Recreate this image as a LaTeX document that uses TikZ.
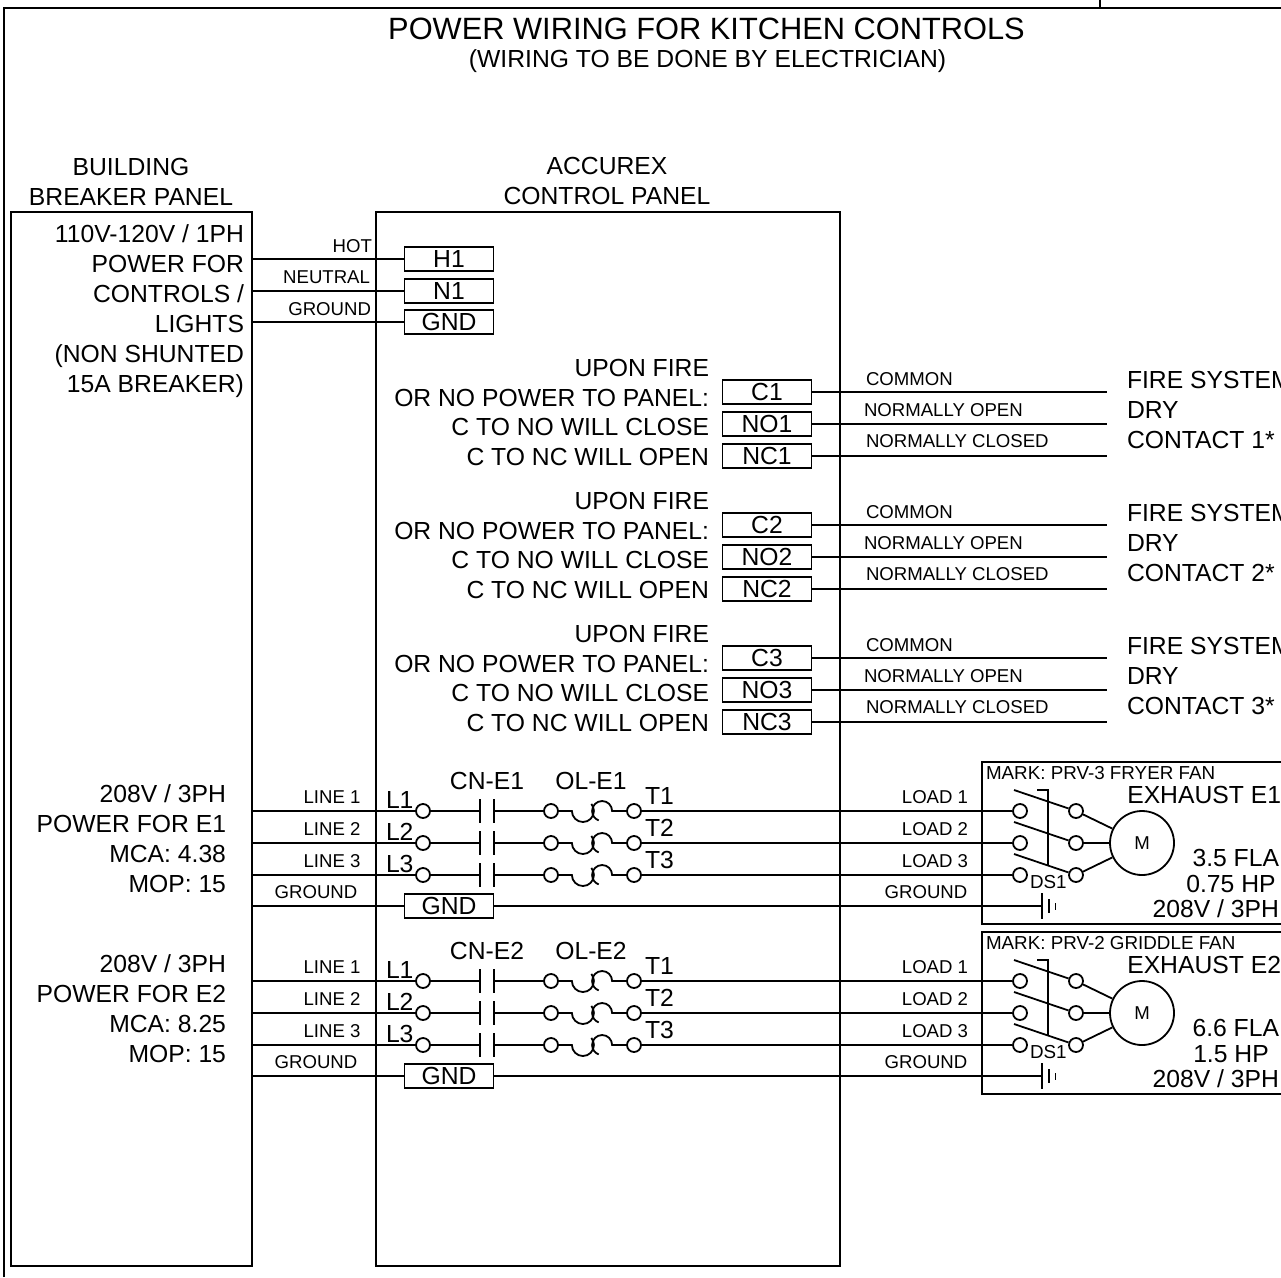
\documentclass[tikz,border=0pt]{standalone}
\usepackage{fontspec}
\setmainfont{Liberation Sans}
\usetikzlibrary{positioning}
\tikzset{
    txt/.style={inner sep=0pt, outer sep=0pt, font=\fontsize{24.7}{30}\selectfont, align=right},
    smalltxt/.style={inner sep=0pt, outer sep=0pt, font=\fontsize{18.6}{22}\selectfont},
    marktxt/.style={inner sep=0pt, outer sep=0pt, font=\fontsize{18.8}{22}\selectfont, anchor=west},
    panel/.style={draw, inner sep=0pt, minimum width=#1, minimum height=1054pt, anchor=north west},
    termbox/.style={draw, fill=white, inner sep=0pt, minimum width=89pt, minimum height=24pt, font=\fontsize{24.7}{30}\selectfont},
    contact/.style={draw, fill=white, circle, inner sep=0pt, minimum size=14pt}
}

\begin{document}
\begin{tikzpicture}[x=1pt, y=-1pt, line width=1.8pt]
    \useasboundingbox (0,0) rectangle (1281,1277);

    % sheet frame
    \draw (4,1277) -- (4,8) -- (1281,8);
    \draw (1100,0) -- (1100,8);

    % headings
    \node[txt, font=\fontsize{30.8}{34}\selectfont] (title) at (706.5,29) {POWER WIRING FOR KITCHEN CONTROLS};
    \node[txt] (subtitle) at (707.5,61) {(WIRING TO BE DONE BY ELECTRICIAN)};
    \node[txt, align=center] (brkhead) at (131,182) {BUILDING\\BREAKER PANEL};
    \node[txt, align=center] (ctlhead) at (607,181) {ACCUREX\\CONTROL PANEL};

    % panels
    \node[panel=241pt] (brk) at (10.1,210.9) {};
    \node[panel=464pt] (ctl) at (375.1,210.9) {};

    % control power
    \node[txt, anchor=north east] (ctltxt) at (244,224.5) {110V-120V / 1PH\\POWER FOR\\CONTROLS /\\LIGHTS\\(NON SHUNTED\\15A BREAKER)};
    \node[termbox] (h1) at (449,259) {H1};
    \node[termbox] (n1) at (449,291) {N1};
    \node[termbox] (gnd0) at (449,322) {GND};
    \draw (brk.east |- h1) -- (h1);
    \draw (brk.east |- n1) -- (n1);
    \draw (brk.east |- gnd0) -- (gnd0);
    \node[smalltxt, anchor=east] (hot) at (372,246) {HOT};
    \node[smalltxt, anchor=east] (neutral) at (370,277) {NEUTRAL};
    \node[smalltxt, anchor=east] (ground0) at (371,309) {GROUND};

    % fire system contacts
    \foreach \n/\dy in {1/0, 2/133, 3/266} {
        \begin{scope}[yshift=-\dy pt]
            \node[txt, anchor=east] (upon\n) at (709,368) {UPON FIRE};
            \node[txt, anchor=east] (nopower\n) at (709,398) {OR NO POWER TO PANEL:};
            \node[txt, anchor=east] (close\n) at (709,427) {C TO NO WILL CLOSE};
            \node[txt, anchor=east] (open\n) at (709,457) {C TO NC WILL OPEN};
            \node[termbox] (c\n) at (767,392) {C\n};
            \node[termbox] (no\n) at (767,424) {NO\n};
            \node[termbox] (nc\n) at (767,456) {NC\n};
            \coordinate (cend\n) at (1107,392);
            \coordinate (noend\n) at (1107,424);
            \coordinate (ncend\n) at (1107,456);
            \draw (c\n) -- (cend\n);
            \draw (no\n) -- (noend\n);
            \draw (nc\n) -- (ncend\n);
            \node[smalltxt, anchor=west] (common\n) at (866,379) {COMMON};
            \node[smalltxt, anchor=west] (normopen\n) at (864,410) {NORMALLY OPEN};
            \node[smalltxt, anchor=west] (normclosed\n) at (866,441) {NORMALLY CLOSED};
            \node[txt, anchor=west] (firesys\n) at (1127,379.5) {FIRE SYSTEM};
            \node[txt, anchor=west] (dry\n) at (1127,410) {DRY};
            \node[txt, anchor=west] (dryc\n) at (1127,440) {CONTACT \n*};
        \end{scope}
    }

    % fan starters
    \foreach \e/\dy/\mca/\marktext/\fla/\hp in {1/0/4.38/PRV-3 FRYER FAN/3.5/0.75, 2/170/8.25/PRV-2 GRIDDLE FAN/6.6/1.5} {
        \begin{scope}[yshift=-\dy pt]
            \node[txt, anchor=north east] (feed\e) at (226,784.5) {208V / 3PH\\POWER FOR E\e\\MCA: \mca\\MOP: 15};
            \node[txt] (cnlbl\e) at (487,781) {CN-E\e};
            \node[txt] (ollbl\e) at (591,781) {OL-E\e};
            \draw (1281,762) -- (982,762) -- (982,924) -- (1281,924);
            \node[marktxt] (mark\e) at (986,773) {MARK: \marktext};
            \node[txt, anchor=east] (exh\e) at (1281,795) {EXHAUST E\e};
            \node[txt, anchor=east] (fla\e) at (1279,858) {\fla{} FLA};
            \node[txt] (hp\e) at (1231,884) {\hp{} HP};
            \node[txt, anchor=east] (volt\e) at (1279,909) {208V / 3PH};

            \node[draw, circle, inner sep=0pt, minimum size=64pt, font=\fontsize{18.6}{22}\selectfont] (motor\e) at (1142,843) {M};
            \foreach \i/\y in {1/811, 2/843, 3/875} {
                \node[contact] (la\e\i) at (423,\y) {};
                \node[contact] (oa\e\i) at (551,\y) {};
                \node[contact] (ob\e\i) at (634,\y) {};
                \node[contact] (da\e\i) at (1020,\y) {};
                \node[contact] (db\e\i) at (1076,\y) {};
                \coordinate (bara\e\i) at (480,\y);
                \coordinate (barb\e\i) at (494,\y);
                \draw (brk.east |- la\e\i) -- (la\e\i);
                \draw (la\e\i) -- (bara\e\i);
                \draw (bara\e\i) ++(0,-12) -- ++(0,24);
                \draw (barb\e\i) ++(0,-12) -- ++(0,24);
                \draw (barb\e\i) -- (oa\e\i);
                \draw (oa\e\i.east) -- ++(13,0) arc[start angle=180, end angle=400, radius=11pt];
                \draw (ob\e\i.west) -- ++(-14,0) arc[start angle=0, end angle=250, radius=10pt];
                \draw (ob\e\i) -- (da\e\i);
                \draw (1014,\y-21) -- (db\e\i);
                \node[smalltxt] (line\e\i) at (332,\y-14) {LINE \i};
                \node[smalltxt] (load\e\i) at (935,\y-14) {LOAD \i};
                \node[txt, anchor=west] (ll\e\i) at (386,\y-11) {L\i};
                \node[txt, anchor=west] (tl\e\i) at (645,\y-15) {T\i};
            }
            \draw (1037,790) -- (1048,790) -- (1048,865);
            \draw (db\e1) -- (motor\e);
            \draw (db\e2) -- (motor\e);
            \draw (db\e3) -- (motor\e);
            \node[marktxt] (ds\e) at (1030,882) {DS1};

            \node[termbox] (gnd\e) at (449,906) {GND};
            \coordinate (earth\e) at (1042,906);
            \draw (brk.east |- gnd\e) -- (gnd\e);
            \draw (gnd\e) -- (earth\e);
            \draw (earth\e) ++(0,-13) -- ++(0,26);
            \draw (earth\e) ++(7,-7) -- ++(0,14);
            \draw[line width=1pt] (earth\e) ++(13,-3) -- ++(0,7);
            \node[smalltxt] (gl\e) at (316,892) {GROUND};
            \node[smalltxt] (gr\e) at (926,892) {GROUND};
        \end{scope}
    }
\end{tikzpicture}
\end{document}
